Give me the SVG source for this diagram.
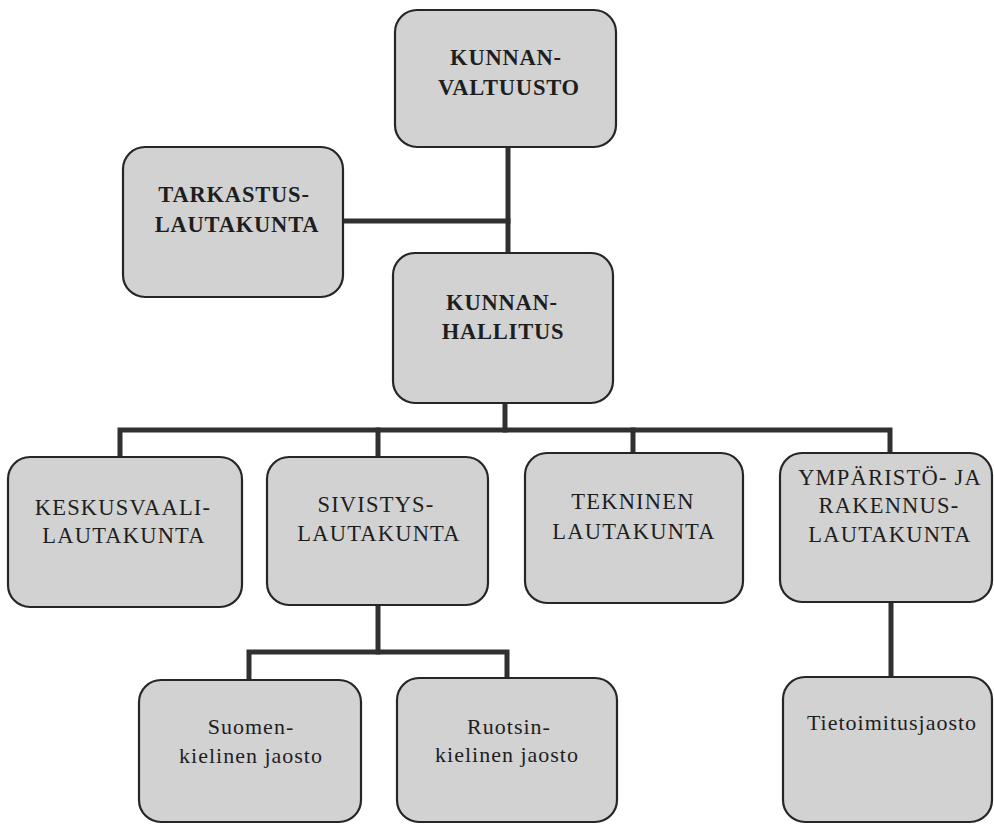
<svg xmlns="http://www.w3.org/2000/svg" width="994" height="825" viewBox="0 0 994 825">
<style>
.box{fill:#d2d2d2;stroke:#262626;stroke-width:2.2}
.con{fill:none;stroke:#303030;stroke-width:5;stroke-linejoin:miter;stroke-linecap:square}
.b{font-weight:bold;font-size:22.5px;letter-spacing:0.8px}
.r{font-size:22.5px;letter-spacing:1.2px}
.s{font-size:22px;letter-spacing:1px}
</style>
<rect width="994" height="825" fill="#ffffff"/>
<g id="connectors">
<path class="con" d="M508 147 V253"/>
<path class="con" d="M343 221 H508"/>
<path class="con" d="M505 403 V430"/>
<path class="con" d="M120 457 V430 H890 V453"/>
<path class="con" d="M378 430 V457"/>
<path class="con" d="M633 430 V453"/>
<path class="con" d="M378 605 V652"/>
<path class="con" d="M249 680 V652 H507 V678"/>
<path class="con" d="M891 602 V677"/>
</g>
<g font-family="Liberation Serif, serif" fill="#1e1e1e" text-anchor="middle">
<g id="kunnanvaltuusto">
<rect class="box" x="395" y="10" width="221" height="137" rx="22"/>
<text class="b" x="506" y="65">KUNNAN-</text>
<text class="b" x="509" y="95">VALTUUSTO</text>
</g>
<g id="tarkastuslautakunta">
<rect class="box" x="123" y="147" width="220" height="150" rx="22"/>
<text class="b" x="234" y="202">TARKASTUS-</text>
<text class="b" x="237" y="232">LAUTAKUNTA</text>
</g>
<g id="kunnanhallitus">
<rect class="box" x="393" y="253" width="220" height="150" rx="22"/>
<text class="b" x="502" y="310">KUNNAN-</text>
<text class="b" x="503" y="339">HALLITUS</text>
</g>
<g id="keskusvaalilautakunta">
<rect class="box" x="8" y="457" width="234" height="150" rx="22"/>
<text class="r" x="123" y="515">KESKUSVAALI-</text>
<text class="r" x="124" y="543">LAUTAKUNTA</text>
</g>
<g id="sivistyslautakunta">
<rect class="box" x="267" y="457" width="221" height="148" rx="22"/>
<text class="r" x="376" y="512">SIVISTYS-</text>
<text class="r" x="379" y="541">LAUTAKUNTA</text>
</g>
<g id="tekninenlautakunta">
<rect class="box" x="525" y="453" width="218" height="150" rx="22"/>
<text class="r" x="633" y="509">TEKNINEN</text>
<text class="r" x="634" y="539">LAUTAKUNTA</text>
</g>
<g id="ymparistolautakunta">
<rect class="box" x="780" y="453" width="212" height="149" rx="22"/>
<text class="r" x="890" y="485">YMPÄRISTÖ- JA</text>
<text class="r" x="889" y="513">RAKENNUS-</text>
<text class="r" x="890" y="542">LAUTAKUNTA</text>
</g>
<g id="suomenkielinen">
<rect class="box" x="139" y="680" width="222" height="142" rx="22"/>
<text class="s" x="251" y="734">Suomen-</text>
<text class="s" x="251" y="763">kielinen jaosto</text>
</g>
<g id="ruotsinkielinen">
<rect class="box" x="397" y="678" width="220" height="144" rx="22"/>
<text class="s" x="509" y="734">Ruotsin-</text>
<text class="s" x="507" y="762">kielinen jaosto</text>
</g>
<g id="tietoimitusjaosto">
<rect class="box" x="783" y="677" width="209" height="145" rx="22"/>
<text class="s" x="892" y="730">Tietoimitusjaosto</text>
</g>
</g>
</svg>
